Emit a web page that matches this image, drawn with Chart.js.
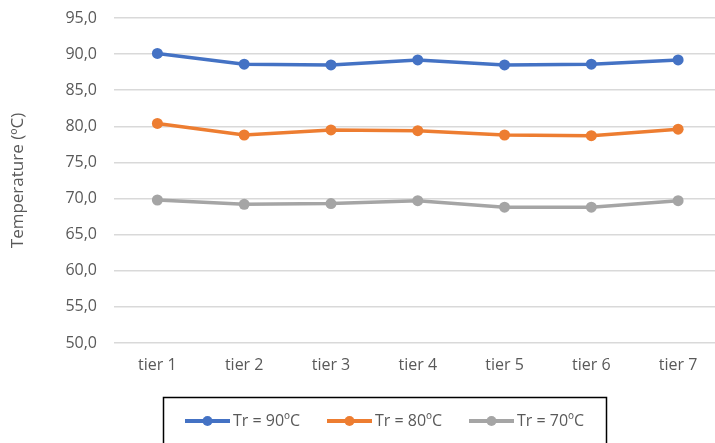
<!DOCTYPE html>
<html>
<head>
<meta charset="utf-8">
<script src="https://cdn.jsdelivr.net/npm/chart.js@4"></script>
<style>
  html, body { margin: 0; background: #fff; overflow: hidden; }
  #wrap { width: 727px; height: 443px; }
</style>
</head>
<body>
<div id="wrap"><canvas id="myChart" width="727" height="443" style="width:727px;height:443px"></canvas></div>
<script>
const tiers = ['tier 1', 'tier 2', 'tier 3', 'tier 4', 'tier 5', 'tier 6', 'tier 7'];
const tr90 = [90.1, 88.6, 88.5, 89.2, 88.5, 88.6, 89.2];
const tr80 = [80.4, 78.8, 79.5, 79.4, 78.8, 78.7, 79.6];
const tr70 = [69.8, 69.2, 69.3, 69.7, 68.8, 68.8, 69.7];
const seriesNames = ['Tr = 90ºC', 'Tr = 80ºC', 'Tr = 70ºC'];
const yTitle = 'Temperature (ºC)';

const FONT = '"Open Sans"';
const GREY = '#595959';

// legend drawn in an Excel-like framed box under the plot
const boxLegend = {
    id: 'boxLegend',
    afterDraw(chart) {
        const ctx = chart.ctx;
        ctx.save();
        ctx.strokeStyle = '#000';
        ctx.lineWidth = 1.5;
        ctx.strokeRect(163.5, 397.5, 443, 60);
        chart.data.datasets.forEach((ds, i) => {
            const x0 = 185 + i * 142;
            const y = 421;
            ctx.strokeStyle = ds.borderColor;
            ctx.lineWidth = 4;
            ctx.beginPath();
            ctx.moveTo(x0, y);
            ctx.lineTo(x0 + 45, y);
            ctx.stroke();
            ctx.fillStyle = ds.borderColor;
            ctx.beginPath();
            ctx.arc(x0 + 22.5, y, 5, 0, Math.PI * 2);
            ctx.fill();
            ctx.fillStyle = GREY;
            ctx.font = '16px ' + FONT;
            ctx.textBaseline = 'middle';
            ctx.fillText(ds.label, x0 + 48, y);
        });
        ctx.restore();
    }
};

function makeSet(label, data, color) {
    return {
        label: label,
        data: data,
        borderColor: color,
        backgroundColor: color,
        borderWidth: 3.5,
        pointRadius: 5.5,
        pointBorderWidth: 0,
        pointHoverRadius: 5.5,
        tension: 0
    };
}

const ctx = document.getElementById('myChart').getContext('2d');
const myChart = new Chart(ctx, {
    type: 'line',
    data: {
        labels: tiers,
        datasets: [
            makeSet(seriesNames[0], tr90, '#4472C4'),
            makeSet(seriesNames[1], tr80, '#ED7D31'),
            makeSet(seriesNames[2], tr70, '#A5A5A5')
        ]
    },
    options: {
        responsive: false,
        animation: false,
        devicePixelRatio: 1,
        layout: { padding: { top: 18, right: 0, bottom: 0, left: 0 } },
        plugins: {
            legend: { display: false },
            tooltip: { enabled: false }
        },
        scales: {
            x: {
                offset: true,
                grid: { display: false, drawTicks: false },
                border: { display: false },
                ticks: { color: GREY, font: { family: FONT, size: 16 }, padding: 13 },
                afterFit: s => { s.height = 100; }
            },
            y: {
                min: 50,
                max: 95,
                grid: { color: '#d9d9d9', lineWidth: 1.5, drawTicks: false },
                border: { display: false },
                ticks: {
                    stepSize: 5,
                    color: GREY,
                    font: { family: FONT, size: 16 },
                    padding: 17,
                    callback: v => v.toFixed(1).replace('.', ',')
                },
                title: {
                    display: true,
                    text: yTitle,
                    color: GREY,
                    font: { family: FONT, size: 17, weight: 'normal' },
                    padding: { top: 8, bottom: 4 }
                },
                afterFit: s => {
                    s.width = 114;
                    s.paddingTop = 0;
                    s.paddingBottom = 0;
                }
            }
        }
    },
    plugins: [boxLegend]
});
</script>
</body>
</html>
